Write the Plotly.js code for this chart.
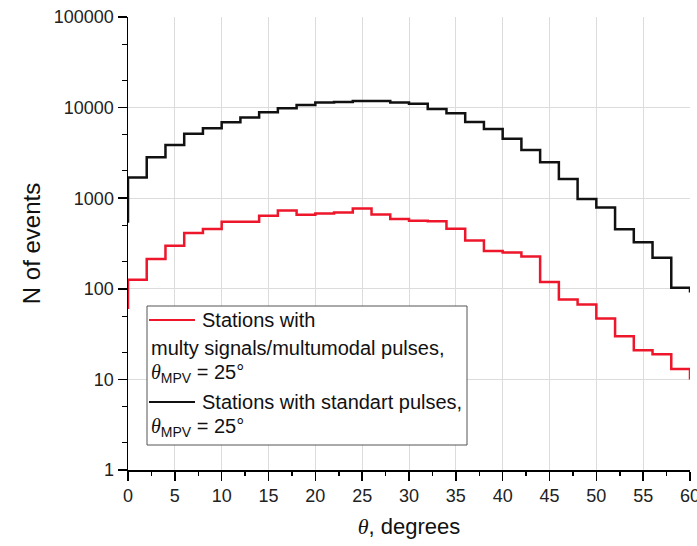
<!DOCTYPE html>
<html>
<head>
<meta charset="utf-8">
<script src="https://cdn.plot.ly/plotly-3.0.1.min.js"></script>
<style>html,body{margin:0;padding:0;background:#fff;}</style>
</head>
<body>
<div id="chart" style="width:697px;height:546px;"></div>
<script>
// Bin edges (degrees), 2-degree bins
const thetaEdges = [0,2,4,6,8,10,12,14,16,18,20,22,24,26,28,30,32,34,36,38,40,42,44,46,48,50,52,54,56,58,60];
// Counts per bin
const standardCounts = [1690, 2830, 3870, 5130, 5920, 6900, 7760, 8900, 9850, 10700, 11350, 11550, 11860, 11860, 11350, 11000, 9680, 8670, 6950, 5820, 4520, 3410, 2490, 1630, 982, 788, 455, 327, 220, 103];
const multiCounts = [126, 213, 299, 412, 456, 549, 549, 640, 731, 656, 678, 695, 770, 661, 588, 563, 558, 459, 341, 262, 251, 227, 119, 76, 67, 47, 30, 21, 19, 13];
// Values at the outer edges of the step lines
const standardEnds = [535, 91];
const multiEnds = [60, 10];
const xTicks = [0,5,10,15,20,25,30,35,40,45,50,55,60];
const yTicks = [1,10,100,1000,10000,100000];
const yTickText = ['1','10','100','1000','10000','100000'];

function stepXY(edges, counts, ends){
  const x = [edges[0]].concat(edges.slice(0, counts.length)).concat([edges[counts.length]]);
  const y = [ends[0]].concat(counts).concat([ends[1]]);
  return {x, y};
}
const sStd = stepXY(thetaEdges, standardCounts, standardEnds);
const sMul = stepXY(thetaEdges, multiCounts, multiEnds);

const RED = 'rgb(238,22,42)';
const BLK = '#111111';
const FONT = 'Liberation Sans, Arial, sans-serif';

const traces = [
  {x: sStd.x, y: sStd.y, mode:'lines', line:{shape:'hv', color:BLK, width:2.5}, showlegend:false, hoverinfo:'skip'},
  {x: sMul.x, y: sMul.y, mode:'lines', line:{shape:'hv', color:RED, width:2.5}, showlegend:false, hoverinfo:'skip'}
];

// plot area geometry in pixels
const L = 128, R = 690, T = 17, B = 470;
const px = v => (v - L) / (R - L);
const py = v => (B - v) / (B - T);

const theta = '<span style="font-family:Liberation Serif, Times New Roman, serif"><i>θ</i></span>';
const mpvText = theta + '<sub>MPV</sub> = 25°';

const legendRows = [
  {text:'Stations with', x:200, y:320},
  {text:'multy signals/multumodal pulses,', x:149, y:348},
  {text:mpvText, x:149, y:373},
  {text:'Stations with standart pulses,', x:200, y:402},
  {text:mpvText, x:149, y:427}
];

const annotations = legendRows.map(r => ({
  xref:'paper', yref:'paper', x:px(r.x), y:py(r.y), xanchor:'left', yanchor:'middle',
  text:r.text, showarrow:false, font:{family:FONT, size:20, color:'#111'}
}));

const shapes = [
  {type:'rect', xref:'paper', yref:'paper', x0:px(147), x1:px(467), y0:py(306), y1:py(445),
   fillcolor:'#ffffff', line:{color:'#555', width:1}, layer:'above'},
  {type:'line', xref:'paper', yref:'paper', x0:px(149), x1:px(195), y0:py(320), y1:py(320),
   line:{color:RED, width:2}, layer:'above'},
  {type:'line', xref:'paper', yref:'paper', x0:px(149), x1:px(195), y0:py(402), y1:py(402),
   line:{color:BLK, width:2}, layer:'above'}
];

const layout = {
  width:697, height:546,
  margin:{l:L, r:697-R, t:T, b:546-B},
  paper_bgcolor:'#fff', plot_bgcolor:'#fff',
  font:{family:FONT, color:'#111'},
  xaxis:{
    range:[0,60], tickvals:xTicks, ticktext:xTicks.map(String),
    showgrid:true, gridcolor:'#dcdcdc', gridwidth:1, zeroline:false,
    showline:true, linecolor:'#000', linewidth:1.5,
    ticks:'outside', ticklen:9, tickwidth:1.5, tickcolor:'#000',
    ticklabeloverflow:'allow',
    tickfont:{size:18, family:FONT, color:'#222'},
    minor:{dtick:2.5, ticks:'outside', ticklen:4, tickwidth:1.5, tickcolor:'#000', showgrid:false},
    title:{text:theta + ', degrees', font:{size:22, family:FONT, color:'#111'}, standoff:13},
    automargin:false
  },
  yaxis:{
    type:'log', range:[0,5], tickvals:yTicks, ticktext:yTickText,
    showgrid:true, gridcolor:'#dcdcdc', gridwidth:1, zeroline:false,
    showline:true, linecolor:'#000', linewidth:1.5,
    ticks:'outside', ticklen:9, tickwidth:1.5, tickcolor:'#000',
    tickfont:{size:18, family:FONT, color:'#222'},
    minor:{ticks:'outside', ticklen:5, tickwidth:1, tickcolor:'#000', showgrid:false},
    title:{text:'N of events', font:{size:24, family:FONT, color:'#111'}, standoff:6},
    automargin:false
  },
  shapes, annotations, showlegend:false
};

Plotly.newPlot('chart', traces, layout, {displayModeBar:false, staticPlot:true});
</script>
</body>
</html>
